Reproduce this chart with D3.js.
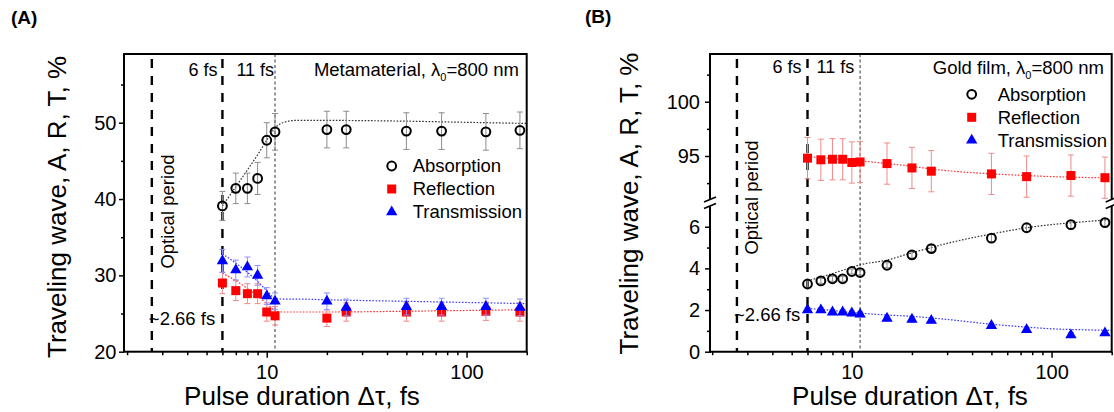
<!DOCTYPE html>
<html><head><meta charset="utf-8">
<script src="https://cdn.jsdelivr.net/npm/d3@7"></script>
<style>
body{margin:0;background:#fff;}
svg{font-family:"Liberation Sans",Arial,Helvetica,sans-serif;}
</style></head><body>
<svg id="c" width="1114" height="412"></svg>
<script>
// ---------------- DATA ----------------
const pulseA = [6, 7, 8, 9, 10, 11, 20, 25, 50, 75, 125, 185];
const absA    = [39.1, 41.4, 41.4, 42.7, 47.7, 48.8, 49.1, 49.1, 48.9, 48.9, 48.8, 49.0];
const absAErr = [1.9, 2.0, 2.0, 2.1, 2.3, 2.4, 2.4, 2.4, 2.4, 2.4, 2.4, 2.4];
const refA    = [29.0, 28.0, 27.6, 27.6, 25.2, 24.7, 24.4, 25.2, 25.2, 25.2, 25.3, 25.2];
const refAErr = [1.4, 1.3, 1.3, 1.3, 1.2, 1.2, 1.1, 1.2, 1.2, 1.2, 1.2, 1.2];
const traA    = [31.9, 30.7, 31.1, 30.0, 27.3, 26.6, 26.6, 25.8, 25.9, 25.9, 25.9, 25.8];
const traAErr = [1.5, 1.3, 1.3, 1.3, 1.1, 1.1, 1.1, 1.1, 1.1, 1.1, 1.1, 1.1];

const fitAx    = [6, 7, 8, 9, 10, 11, 12, 14, 20, 50, 100, 200];
const fitAabs  = [39.1, 41.6, 43.8, 45.8, 47.7, 49.3, 50.0, 50.3, 50.3, 50.2, 50.05, 49.9];
const fitAref  = [30.3, 29.3, 28.3, 27.3, 26.3, 25.4, 25.2, 25.2, 25.2, 25.3, 25.4, 25.5];
const fitAtra  = [32.8, 31.6, 30.4, 29.2, 28.0, 27.0, 26.9, 26.9, 26.8, 26.6, 26.45, 26.3];

const pulseB = [6, 7, 8, 9, 10, 11, 15, 20, 25, 50, 75, 125, 185];
const absB    = [3.25, 3.4, 3.5, 3.5, 3.85, 3.8, 4.15, 4.65, 4.95, 5.45, 5.95, 6.1, 6.2];
const absBErr = [0.15, 0.12, 0.12, 0.12, 0.12, 0.12, 0.12, 0.15, 0.15, 0.18, 0.18, 0.2, 0.2];
const refB    = [94.8, 94.65, 94.7, 94.7, 94.4, 94.45, 94.3, 93.9, 93.6, 93.35, 93.1, 93.2, 93.0];
const refBErr = [1.9, 1.9, 1.9, 1.9, 1.9, 1.9, 1.9, 1.9, 1.9, 1.9, 1.9, 1.9, 1.9];
const traB    = [2.0, 2.0, 1.9, 1.9, 1.85, 1.8, 1.6, 1.55, 1.5, 1.25, 1.05, 0.8, 0.9];
const traBErr = [0.12, 0.12, 0.12, 0.12, 0.12, 0.12, 0.12, 0.12, 0.12, 0.12, 0.12, 0.12, 0.12];

const fitBx    = [6, 8, 10, 11, 15, 20, 25, 30, 50, 75, 100, 150, 200];
const fitBabs  = [3.4, 3.75, 4.05, 4.17, 4.4, 4.75, 5.0, 5.2, 5.65, 5.95, 6.1, 6.25, 6.35];
const fitBref  = [94.95, 94.75, 94.6, 94.55, 94.3, 94.05, 93.8, 93.65, 93.35, 93.2, 93.1, 93.02, 92.97];
const fitBtra  = [2.08, 1.98, 1.88, 1.85, 1.76, 1.7, 1.62, 1.55, 1.32, 1.18, 1.1, 1.05, 1.02];

const markerLines = [2.66, 6, 11];
const xMajorTicks = [10, 100];
const xMinorTicks = [2, 3, 4, 5, 6, 7, 8, 9, 20, 30, 40, 50, 60, 70, 80, 90, 200];
const yTicksA = [20, 30, 40, 50];
const yMinorA = [25, 35, 45, 55];
const yTicksBup = [95, 100];
const yMinorBup = [92.5, 97.5, 102.5];
const yTicksBlo = [0, 2, 4, 6];
const yMinorBlo = [1, 3, 5];
const legendNames = ["Absorption", "Reflection", "Transmission"];

// ---------------- STYLE ----------------
const BLACK = "#000", RED = "#ff0000", BLUE = "#0000ff";
const ERR = {abs: "#8c8c8c", ref: "#f08a8a", tra: "#8f8fff"};
const FIT = {abs: "#333", ref: "#ff3030", tra: "#3a3aff"};

const svg = d3.select("#c");

function sym(g, kind, cx, cy) {
  if (kind === "abs") {
    g.append("circle").attr("cx", cx).attr("cy", cy).attr("r", 4.4)
      .attr("fill", "none").attr("stroke", BLACK).attr("stroke-width", 2);
  } else if (kind === "ref") {
    g.append("rect").attr("x", cx - 4.5).attr("y", cy - 4.5).attr("width", 9).attr("height", 9)
      .attr("fill", RED);
  } else {
    g.append("path").attr("d", d3.symbol(d3.symbolTriangle, 56)())
      .attr("transform", `translate(${cx},${cy})`).attr("fill", BLUE);
  }
}

function series(g, x, y, xs, vs, es, kind) {
  const eg = g.append("g");
  xs.forEach((xv, i) => {
    const px = x(xv), y1 = y(vs[i] - es[i]), y2 = y(vs[i] + es[i]);
    eg.append("line").attr("x1", px).attr("x2", px).attr("y1", y1).attr("y2", y2)
      .attr("stroke", ERR[kind]).attr("stroke-width", 1);
    [y1, y2].forEach(yy => eg.append("line").attr("x1", px - 3).attr("x2", px + 3)
      .attr("y1", yy).attr("y2", yy).attr("stroke", ERR[kind]).attr("stroke-width", 1));
  });
  const mg = g.append("g");
  xs.forEach((xv, i) => sym(mg, kind, x(xv), y(vs[i])));
}

function fit(g, x, y, xs, vs, kind) {
  const line = d3.line().x((d, i) => x(xs[i])).y(d => y(d)).curve(d3.curveMonotoneX);
  g.append("path").attr("d", line(vs)).attr("fill", "none")
    .attr("stroke", FIT[kind]).attr("stroke-width", 1.2).attr("stroke-dasharray", "1.6,1.6");
}

function styleAxis(a, fs) {
  a.select(".domain").remove();
  a.selectAll("line").attr("stroke", BLACK).attr("stroke-width", 1.5);
  a.selectAll("text").attr("font-size", fs).attr("fill", BLACK)
    .attr("font-family", '"Liberation Sans",Arial,sans-serif');
}

function xAxis(g, x, yb) {
  const maj = g.append("g").attr("transform", `translate(0,${yb})`)
    .call(d3.axisBottom(x).tickValues(xMajorTicks).tickFormat(d3.format("d")).tickSize(6).tickPadding(7));
  styleAxis(maj, 20);
  const mi = g.append("g").attr("transform", `translate(0,${yb})`)
    .call(d3.axisBottom(x).tickValues(xMinorTicks).tickFormat("").tickSize(3.5));
  styleAxis(mi, 20);
}

function yAxis(g, y, xl, major, minor, pad) {
  const maj = g.append("g").attr("transform", `translate(${xl},0)`)
    .call(d3.axisLeft(y).tickValues(major).tickFormat(d3.format("d")).tickSize(5).tickPadding(pad));
  styleAxis(maj, 20);
  const mi = g.append("g").attr("transform", `translate(${xl},0)`)
    .call(d3.axisLeft(y).tickValues(minor).tickFormat("").tickSize(3));
  styleAxis(mi, 20);
}

function vlines(g, x, top, bottom) {
  const [l266, l6, l11] = markerLines;
  [l266, l6].forEach(v => g.append("line").attr("x1", x(v)).attr("x2", x(v))
    .attr("y1", top + 5).attr("y2", bottom).attr("stroke", BLACK).attr("stroke-width", 2.4)
    .attr("stroke-dasharray", "9,8"));
  g.append("line").attr("x1", x(l11)).attr("x2", x(l11)).attr("y1", top).attr("y2", bottom)
    .attr("stroke", "#333").attr("stroke-width", 1).attr("stroke-dasharray", "3,2.5");
}

function txt(g, s, xx, yy, opts = {}) {
  const t = g.append("text").attr("x", xx).attr("y", yy).attr("dy", "0.35em")
    .attr("font-size", opts.fs || 18).attr("fill", BLACK)
    .attr("text-anchor", opts.anchor || "start");
  if (opts.weight) t.attr("font-weight", opts.weight);
  if (opts.rot) t.attr("transform", `rotate(-90,${xx},${yy})`);
  t.text(s);
  return t;
}

function lambdaText(g, name, xx, yy) {
  const t = g.append("text").attr("x", xx).attr("y", yy).attr("dy", "0.35em")
    .attr("font-size", 18.5).attr("text-anchor", "end").attr("fill", BLACK);
  t.append("tspan").text(name + ", \u03BB");
  t.append("tspan").attr("font-size", 11).attr("dy", "5").text("0");
  t.append("tspan").attr("dy", "-5").text("=800 nm");
}

function legend(g, sx, tx, y0, dy) {
  ["abs", "ref", "tra"].forEach((k, i) => {
    sym(g, k, sx, y0 + i * dy);
    txt(g, legendNames[i], tx, y0 + i * dy, {fs: 18.5});
  });
}

// ---------------- PANEL A ----------------
{
  const g = svg.append("g");
  const x = d3.scaleLog().domain([1.93, 200]).range([124, 526.7]);
  const y = d3.scaleLinear().domain([20, 59]).range([351.7, 54]);
  const [L, R] = x.range(), [B, T] = y.range();

  vlines(g, x, T, B);
  fit(g, x, y, fitAx, fitAabs, "abs");
  fit(g, x, y, fitAx, fitAref, "ref");
  fit(g, x, y, fitAx, fitAtra, "tra");
  series(g, x, y, pulseA, refA, refAErr, "ref");
  series(g, x, y, pulseA, traA, traAErr, "tra");
  series(g, x, y, pulseA, absA, absAErr, "abs");

  xAxis(g, x, B);
  yAxis(g, y, L, yTicksA, yMinorA, 2.5);
  g.append("rect").attr("x", L).attr("y", T).attr("width", R - L).attr("height", B - T)
    .attr("fill", "none").attr("stroke", BLACK).attr("stroke-width", 2);

  lambdaText(g, "Metamaterial", 519, 70);
  txt(g, "6 fs", x(6) - 5, 70, {anchor: "end"});
  txt(g, "11 fs", x(6) + 14, 70);
  txt(g, "Optical period", 168, 211.5, {rot: true, anchor: "middle", fs: 18.5});
  txt(g, "~2.66 fs", x(2.66) - 3, 318.3, {fs: 18.5});
  legend(g, 391.7, 412.7, 166, 23);

  txt(g, "Traveling wave, A, R, T, %", 57, 207, {rot: true, anchor: "middle", fs: 26});
  txt(g, "Pulse duration \u0394\u03C4, fs", 302, 396, {anchor: "middle", fs: 26});
  txt(g, "(A)", 11, 17, {fs: 19, weight: "bold"});
}

// ---------------- PANEL B ----------------
{
  const g = svg.append("g");
  const x = d3.scaleLog().domain([1.95, 200]).range([710, 1111.7]);
  const yUp = d3.scaleLinear().domain([91, 104.4]).range([199.4, 54]);
  const yLo = d3.scaleLinear().domain([0, 7]).range([351.7, 205.9]);
  const [L, R] = x.range(), B = yLo.range()[0], T = yUp.range()[1];
  const gapTop = yUp.range()[0], gapBot = yLo.range()[1];

  vlines(g, x, T, B);
  fit(g, x, yUp, fitBx, fitBref, "ref");
  fit(g, x, yLo, fitBx, fitBabs, "abs");
  fit(g, x, yLo, fitBx, fitBtra, "tra");
  series(g, x, yUp, pulseB, refB, refBErr, "ref");
  series(g, x, yLo, pulseB, traB, traBErr, "tra");
  series(g, x, yLo, pulseB, absB, absBErr, "abs");

  xAxis(g, x, B);
  yAxis(g, yUp, L, yTicksBup, yMinorBup, 5);
  yAxis(g, yLo, L, yTicksBlo, yMinorBlo, 5);

  // frame with broken vertical sides
  const fr = g.append("g").attr("stroke", BLACK).attr("stroke-width", 2).attr("fill", "none");
  fr.append("line").attr("x1", L).attr("x2", R).attr("y1", T).attr("y2", T);
  fr.append("line").attr("x1", L).attr("x2", R).attr("y1", B).attr("y2", B);
  [L, R].forEach(xx => {
    fr.append("line").attr("x1", xx).attr("x2", xx).attr("y1", T - 1).attr("y2", gapTop);
    fr.append("line").attr("x1", xx).attr("x2", xx).attr("y1", gapBot).attr("y2", B + 1);
    fr.append("line").attr("x1", xx - 6).attr("x2", xx + 6).attr("y1", gapTop + 2.5).attr("y2", gapTop - 2.5)
      .attr("stroke-width", 1.6);
    fr.append("line").attr("x1", xx - 6).attr("x2", xx + 6).attr("y1", gapBot + 2.5).attr("y2", gapBot - 2.5)
      .attr("stroke-width", 1.6);
  });

  lambdaText(g, "Gold film", 1104, 68);
  txt(g, "6 fs", x(6) - 6, 66.7, {anchor: "end"});
  txt(g, "11 fs", x(6) + 9, 66.7);
  txt(g, "Optical period", 752, 197.5, {rot: true, anchor: "middle", fs: 18.5});
  txt(g, "~2.66 fs", x(2.66) - 3, 315, {fs: 18.5});
  legend(g, 971.7, 997.7, 94.3, 23);

  txt(g, "Traveling wave, A, R, T, %", 629, 203.5, {rot: true, anchor: "middle", fs: 26});
  txt(g, "Pulse duration \u0394\u03C4, fs", 910, 396, {anchor: "middle", fs: 26});
  txt(g, "(B)", 585, 16.5, {fs: 19, weight: "bold"});
}
</script>
</body></html>
